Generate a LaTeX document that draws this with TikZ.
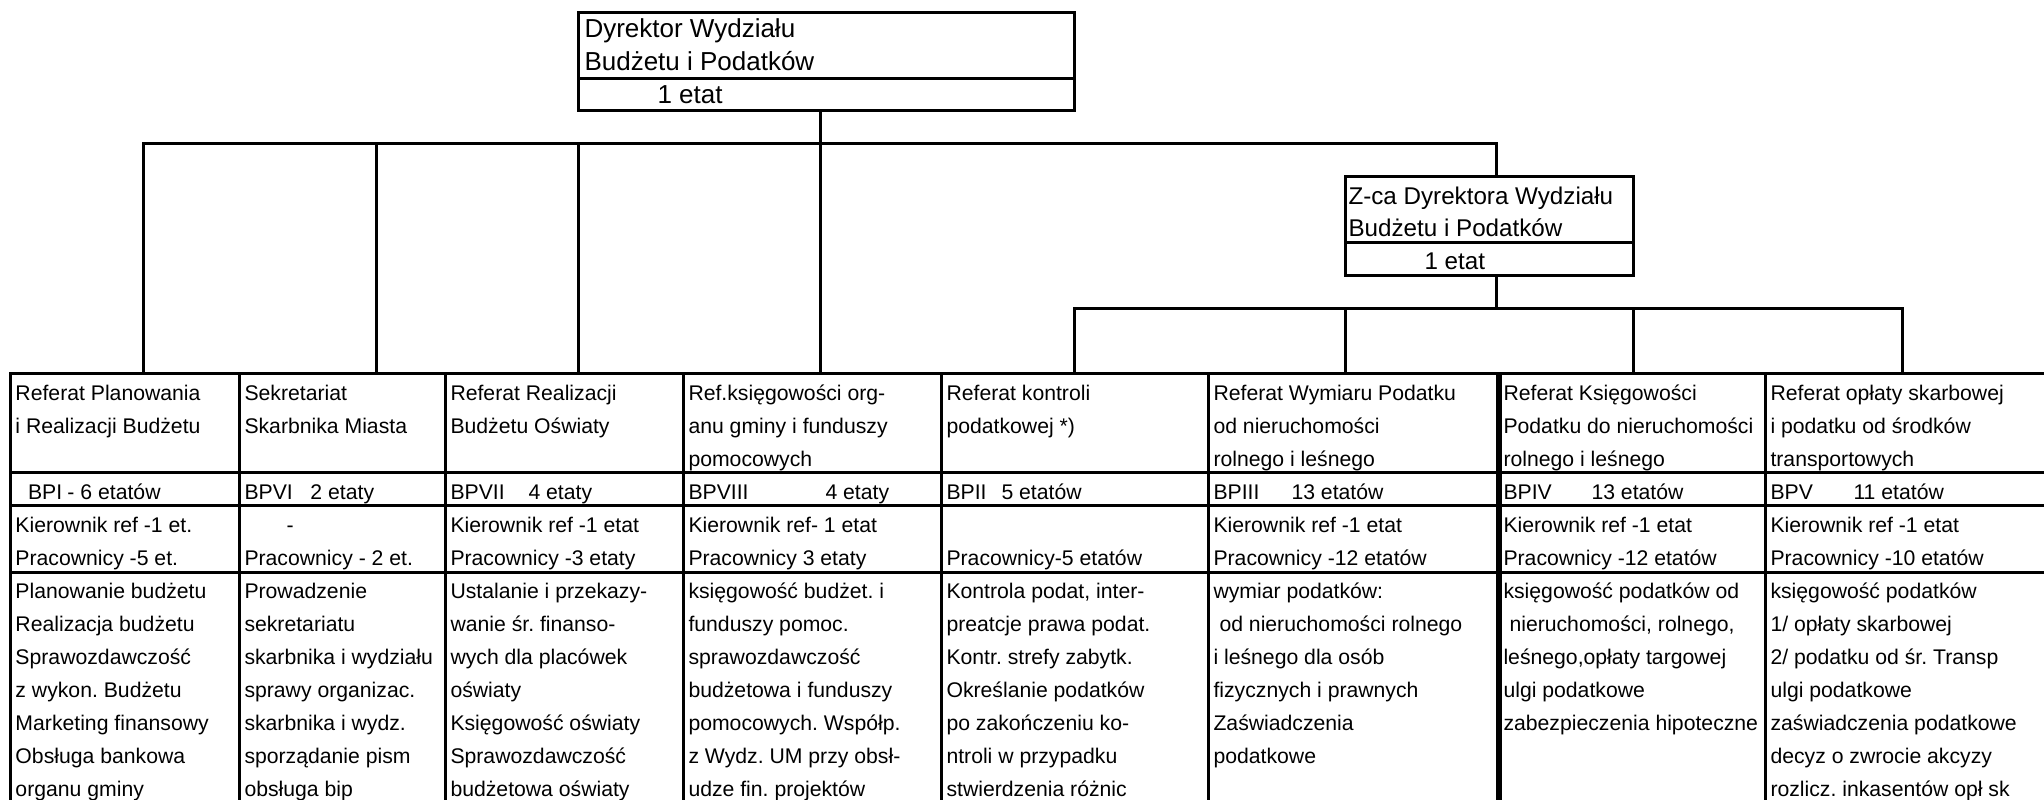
\documentclass[tikz,border=0pt]{standalone}
\usepackage{fontspec}
\setmainfont{Liberation Sans}
\usetikzlibrary{positioning,calc}
\frenchspacing

\begin{document}
\begin{tikzpicture}[x=0.5pt,y=-0.5pt,line width=1.5pt,
  ramka/.style={draw,rectangle,inner sep=0pt,outer sep=0pt,anchor=north west},
  kol/.style={ramka,minimum height=228.5pt},
  tekst/.style={anchor=north west,inner sep=0pt,align=left,font=\fontsize{10.6}{16.5}\selectfont},
  szef/.style={tekst,font=\fontsize{13}{16.5}\selectfont}]

  \useasboundingbox (0,0) rectangle (2044,799);

  % dyrektor i zastepca
  \node[ramka,minimum width=248pt,minimum height=49pt] (dyr) at (578,12) {};
  \draw ($(dyr.north west)+(0,66)$) -- ($(dyr.north east)+(0,66)$);
  \node[szef] (dyrt) at (583,13) {\strut Dyrektor Wydziału\\Budżetu i Podatków\\\hspace*{36.5pt}1 etat};

  \node[ramka,minimum width=144pt,minimum height=49.5pt] (zca) at (1345,176) {};
  \draw ($(zca.north west)+(0,66)$) -- ($(zca.north east)+(0,66)$);
  \node[szef,font=\fontsize{12.1}{16.25}\selectfont] (zcat) at (1347,180) {\strut Z-ca Dyrektora Wydziału\\Budżetu i Podatków\\\hspace*{38pt}1 etat};

  % kolumny tabeli
  \node[kol,minimum width=114.5pt] (k1) at (10,373) {};
  \node[kol,minimum width=103pt,right=0pt of k1] (k2) {};
  \node[kol,minimum width=119pt,right=0pt of k2] (k3) {};
  \node[kol,minimum width=129pt,right=0pt of k3] (k4) {};
  \node[kol,minimum width=133.5pt,right=0pt of k4] (k5) {};
  \node[kol,minimum width=145.5pt,right=0pt of k5] (k6) {};
  \node[kol,minimum width=133pt,right=0pt of k6] (k7) {};
  \node[kol,minimum width=147.5pt,right=0pt of k7] (k8) {};
  \draw[line width=3pt] (k7.north west) -- (k7.south west);
  \foreach \y in {472,505,572}
    \draw (10,\y) -- (2060,\y);

  % polaczenia
  \coordinate (s1) at (143,143);
  \coordinate (s2) at (376,143);
  \coordinate (s3) at (578,143);
  \coordinate (s4) at (820,143);
  \coordinate (s5) at (1496,143);
  \draw (s1 |- k1.north) -- (s1) -- (s5) -- (s5 |- zca.north);
  \draw (dyr.south -| s4) -- (s4);
  \foreach \i in {2,3,4}
    \draw (s\i) -- (s\i |- k\i.north);

  \coordinate (t0) at (1496,308);
  \coordinate (t1) at (1074,308);
  \coordinate (t2) at (1345,308);
  \coordinate (t3) at (1633,308);
  \coordinate (t4) at (1902,308);
  \draw (t1 |- k5.north) -- (t1) -- (t4) -- (t4 |- k8.north);
  \draw (zca.south -| t0) -- (t0);
  \draw (t2) -- (t2 |- k6.north);
  \draw (t3) -- (t3 |- k7.north);

  % nazwy referatow
  \node[tekst] (n1) at (14,376) {\strut Referat Planowania\\i Realizacji Budżetu};
  \node[tekst] (n2) at (243,376) {\strut Sekretariat\\Skarbnika Miasta};
  \node[tekst] (n3) at (449,376) {\strut Referat Realizacji\\Budżetu Oświaty};
  \node[tekst] (n4) at (687,376) {\strut Ref.księgowości org-\\anu gminy i funduszy\\pomocowych};
  \node[tekst] (n5) at (945,376) {\strut Referat kontroli\\podatkowej *)};
  \node[tekst] (n6) at (1212,376) {\strut Referat Wymiaru Podatku\\od nieruchomości\\rolnego i leśnego};
  \node[tekst] (n7) at (1502,376) {\strut Referat Księgowości\\Podatku do nieruchomości\\rolnego i leśnego};
  \node[tekst] (n8) at (1769,376) {\strut Referat opłaty skarbowej\\i podatku od środków\\transportowych};

  % etaty
  \node[tekst] (e1) at (14,475) {\strut\makebox[26pt][l]{\hspace*{6.3pt}BPI}- 6 etatów};
  \node[tekst] (e2) at (243,475) {\strut\makebox[33pt][l]{BPVI}2 etaty};
  \node[tekst] (e3) at (449,475) {\strut\makebox[39pt][l]{BPVII}4 etaty};
  \node[tekst] (e4) at (687,475) {\strut\makebox[68.5pt][l]{BPVIII}4 etaty};
  \node[tekst] (e5) at (945,475) {\strut\makebox[27.5pt][l]{BPII}5 etatów};
  \node[tekst] (e6) at (1212,475) {\strut\makebox[39pt][l]{BPIII}13 etatów};
  \node[tekst] (e7) at (1502,475) {\strut\makebox[44pt][l]{BPIV}13 etatów};
  \node[tekst] (e8) at (1769,475) {\strut\makebox[41.5pt][l]{BPV}11 etatów};

  % obsada
  \node[tekst] (p1) at (14,508) {\strut Kierownik ref -1 et.\\Pracownicy -5 et.};
  \node[tekst] (p2) at (243,508) {\strut\hspace*{21pt}-\\Pracownicy - 2 et.};
  \node[tekst] (p3) at (449,508) {\strut Kierownik ref -1 etat\\Pracownicy -3 etaty};
  \node[tekst] (p4) at (687,508) {\strut Kierownik ref- 1 etat\\Pracownicy 3 etaty};
  \node[tekst] (p5) at (945,508) {\strut\\Pracownicy-5 etatów};
  \node[tekst] (p6) at (1212,508) {\strut Kierownik ref -1 etat\\Pracownicy -12 etatów};
  \node[tekst] (p7) at (1502,508) {\strut Kierownik ref -1 etat\\Pracownicy -12 etatów};
  \node[tekst] (p8) at (1769,508) {\strut Kierownik ref -1 etat\\Pracownicy -10 etatów};

  % zadania
  \node[tekst] (z1) at (14,574) {\strut Planowanie budżetu\\Realizacja budżetu\\Sprawozdawczość\\z wykon. Budżetu\\Marketing finansowy\\Obsługa bankowa\\organu gminy};
  \node[tekst] (z2) at (243,574) {\strut Prowadzenie\\sekretariatu\\skarbnika i wydziału\\sprawy organizac.\\skarbnika i wydz.\\sporządanie pism\\obsługa bip};
  \node[tekst] (z3) at (449,574) {\strut Ustalanie i przekazy-\\wanie śr. finanso-\\wych dla placówek\\oświaty\\Księgowość oświaty\\Sprawozdawczość\\budżetowa oświaty};
  \node[tekst] (z4) at (687,574) {\strut księgowość budżet. i\\funduszy pomoc.\\sprawozdawczość\\budżetowa i funduszy\\pomocowych. Współp.\\z Wydz. UM przy obsł-\\udze fin. projektów};
  \node[tekst] (z5) at (945,574) {\strut Kontrola podat, inter-\\preatcje prawa podat.\\Kontr. strefy zabytk.\\Określanie podatków\\po zakończeniu ko-\\ntroli w przypadku\\stwierdzenia różnic};
  \node[tekst] (z6) at (1212,574) {\strut wymiar podatków:\\\hspace*{3pt}od nieruchomości rolnego\\i leśnego dla osób\\fizycznych i prawnych\\Zaświadczenia\\podatkowe};
  \node[tekst] (z7) at (1502,574) {\strut księgowość podatków od\\\hspace*{3pt}nieruchomości, rolnego,\\leśnego,opłaty targowej\\ulgi podatkowe\\zabezpieczenia hipoteczne};
  \node[tekst] (z8) at (1769,574) {\strut księgowość podatków\\1/ opłaty skarbowej\\2/ podatku od śr. Transp\\ulgi podatkowe\\zaświadczenia podatkowe\\decyz o zwrocie akcyzy\\rozlicz. inkasentów opł sk};
\end{tikzpicture}
\end{document}
